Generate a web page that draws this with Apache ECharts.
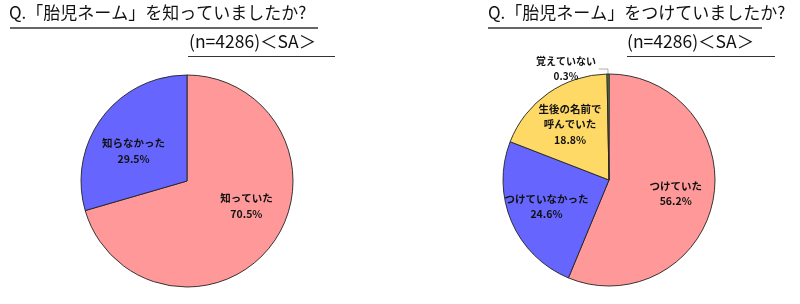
<!DOCTYPE html>
<html>
<head>
<meta charset="utf-8">
<script src="https://cdn.jsdelivr.net/npm/echarts@6/dist/echarts.min.js"></script>
<style>html,body{margin:0;padding:0;background:#fff}#c{width:800px;height:304px}</style>
</head>
<body>
<div id="c"></div>
<script>
var leftTitle = 'Q.「胎児ネーム」を知っていましたか?';
var rightTitle = 'Q.「胎児ネーム」をつけていましたか?';
var sampleNote = '(n=4286)＜SA＞';
var leftCategories = ['知っていた', '知らなかった'];
var leftValues = [70.5, 29.5];
var rightCategories = ['つけていた', 'つけていなかった', '生後の名前で\n呼んでいた', '覚えていない'];
var rightValues = [56.2, 24.6, 18.8, 0.3];
var leftColors = ['#FF9999', '#6666FF'];
var rightColors = ['#FF9999', '#6666FF', '#FFD966', '#4E9A4E'];

var FONT = '"Noto Sans CJK JP", sans-serif';
var R = 106;
var outsideIdx = 3; // small slice labelled outside (right chart)
// label nudges for the left chart (Excel placed them by hand)
var leftLabelNudge = [{ dx: 5, dy: -16 }, { dx: 1, dy: 11 }];

function mainData(cats, vals, cols, outside) {
  return cats.map(function (n, i) {
    var d = { name: n, value: vals[i], itemStyle: { color: cols[i] } };
    if (i === outside) {
      d.label = { show: true };
      d.labelLine = { show: true };
    }
    return d;
  });
}
function labelData(cats, vals, outside) {
  return cats.map(function (n, i) {
    var d = { name: n, value: vals[i] };
    if (i === outside) d.label = { show: false };
    return d;
  });
}
function shapeSeries(center, cats, vals, cols, outside) {
  return {
    type: 'pie', center: center, radius: R, startAngle: 90, clockwise: true,
    avoidLabelOverlap: false, silent: true, animation: false,
    emphasis: { disabled: true },
    itemStyle: { borderColor: '#222', borderWidth: 0.9 },
    label: {
      show: false, position: 'outside', distanceToLabelLine: 3,
      fontFamily: FONT, fontSize: 10, fontWeight: 'bold', color: '#111', lineHeight: 15,
      formatter: function (p) { return '{a|' + p.name + '}\n{b|' + p.value + '%}'; },
      rich: {
        a: { fontFamily: FONT, fontSize: 10, fontWeight: 'bold', color: '#111', lineHeight: 15, height: 15 },
        b: { fontFamily: FONT, fontSize: 10, fontWeight: 'bold', color: '#111', lineHeight: 15, height: 15, width: 60, align: 'center' }
      }
    },
    labelLine: { show: false, length: 5, length2: 9, lineStyle: { color: '#999', width: 0.8 } },
    data: mainData(cats, vals, cols, outside)
  };
}
function labelSeries(center, cats, vals, outside, nudge) {
  var s = {
    type: 'pie', center: center, radius: 130, startAngle: 90, clockwise: true,
    avoidLabelOverlap: false, silent: true, animation: false, z: 5,
    emphasis: { disabled: true },
    itemStyle: { color: 'rgba(0,0,0,0)', borderWidth: 0 },
    label: {
      show: true, position: 'inside',
      fontFamily: FONT, fontSize: 10.5, fontWeight: 'bold', color: '#111', lineHeight: 15.5,
      formatter: '{b}\n{c}%'
    },
    labelLine: { show: false },
    data: labelData(cats, vals, outside)
  };
  if (nudge) {
    s.labelLayout = function (p) { return nudge[p.dataIndex] || {}; };
  }
  return s;
}

var titleStyle = { fontFamily: FONT, fontSize: 17, fontWeight: 'normal', color: '#111' };
var noteStyle = { fontFamily: FONT, fontSize: 17.5, fontWeight: 'normal', color: '#111' };
function uline(x1, x2, y, w) {
  return { type: 'line', shape: { x1: x1, y1: y, x2: x2, y2: y }, style: { stroke: '#333', lineWidth: w }, silent: true };
}

var chart = echarts.init(document.getElementById('c'), null, { renderer: 'canvas' });
chart.setOption({
  backgroundColor: '#fff',
  animation: false,
  title: [
    { text: leftTitle, left: 9, top: 4, textStyle: titleStyle, padding: 0 },
    { text: sampleNote, left: 189, top: 33, textStyle: noteStyle, padding: 0 },
    { text: rightTitle, left: 488, top: 4, textStyle: titleStyle, padding: 0 },
    { text: sampleNote, left: 627, top: 33, textStyle: noteStyle, padding: 0 }
  ],
  graphic: [
    uline(10, 318, 28, 1.5),
    uline(188, 335, 56.5, 1.2),
    uline(488, 762, 28, 1.5),
    uline(627, 775, 56.5, 1.2)
  ],
  series: [
    shapeSeries([187, 181], leftCategories, leftValues, leftColors, -1),
    labelSeries([187, 181], leftCategories, leftValues, -1, leftLabelNudge),
    shapeSeries([609, 180], rightCategories, rightValues, rightColors, outsideIdx),
    labelSeries([609, 180], rightCategories, rightValues, outsideIdx, null)
  ]
});
</script>
</body>
</html>
